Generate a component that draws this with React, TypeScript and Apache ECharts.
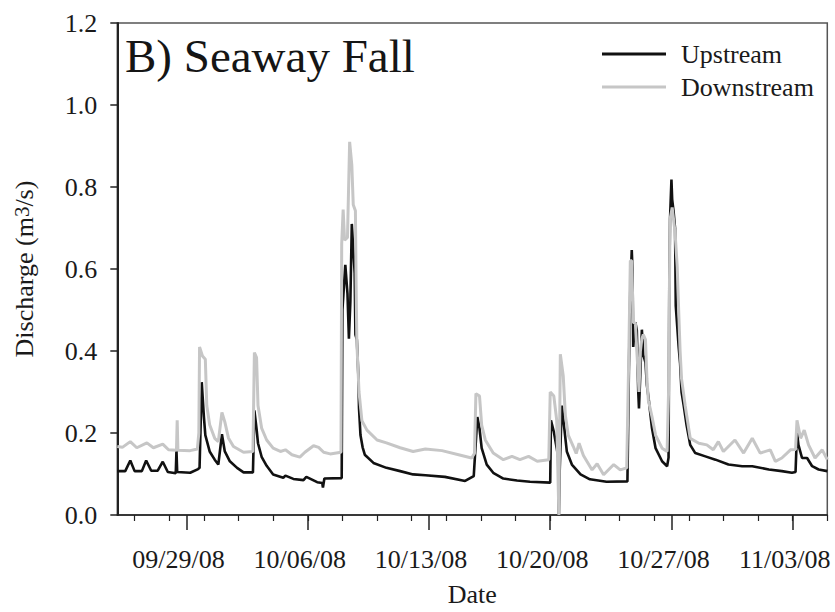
import React, { useEffect, useRef } from "react";
import * as echarts from "echarts";

// Discharge time series, "MM/DD HH" (2008) and m^3/s
const upstream: [string, number][] = [
  ["09/25 00", 0.107], ["09/25 11", 0.107], ["09/25 18", 0.133], ["09/26 00", 0.107],
  ["09/26 10", 0.107], ["09/26 16", 0.133], ["09/26 23", 0.108], ["09/27 08", 0.108],
  ["09/27 15", 0.13], ["09/27 22", 0.105], ["09/28 09", 0.102], ["09/28 10", 0.157],
  ["09/28 11", 0.105], ["09/29 05", 0.103], ["09/29 16", 0.112], ["09/29 18", 0.115],
  ["09/29 21", 0.324], ["09/30 00", 0.24], ["09/30 02", 0.195], ["09/30 08", 0.155],
  ["09/30 15", 0.135], ["09/30 20", 0.123], ["10/01 01", 0.197], ["10/01 05", 0.155],
  ["10/01 12", 0.131], ["10/01 22", 0.115], ["10/02 07", 0.104], ["10/02 20", 0.104],
  ["10/02 22", 0.255], ["10/03 01", 0.21], ["10/03 03", 0.175], ["10/03 08", 0.142],
  ["10/03 15", 0.12], ["10/04 00", 0.099], ["10/04 14", 0.091], ["10/04 17", 0.096],
  ["10/05 04", 0.088], ["10/05 18", 0.085], ["10/05 22", 0.093], ["10/06 13", 0.08],
  ["10/06 20", 0.078], ["10/06 21", 0.067], ["10/06 23", 0.089], ["10/07 23", 0.09],
  ["10/08 00", 0.5], ["10/08 04", 0.61], ["10/08 07", 0.54], ["10/08 09", 0.43],
  ["10/08 11", 0.52], ["10/08 13", 0.71], ["10/08 15", 0.65], ["10/08 17", 0.59],
  ["10/08 18", 0.44], ["10/08 20", 0.428], ["10/08 22", 0.344], ["10/08 23", 0.26],
  ["10/09 01", 0.195], ["10/09 04", 0.165], ["10/09 07", 0.147], ["10/09 19", 0.127],
  ["10/10 13", 0.115], ["10/11 08", 0.107], ["10/12 02", 0.099], ["10/12 19", 0.097],
  ["10/13 22", 0.093], ["10/15 02", 0.083], ["10/15 14", 0.095], ["10/15 19", 0.239],
  ["10/15 22", 0.211], ["10/16 01", 0.163], ["10/16 08", 0.123], ["10/16 17", 0.103],
  ["10/17 07", 0.089], ["10/18 02", 0.084], ["10/18 20", 0.081], ["10/20 00", 0.079],
  ["10/20 01", 0.231], ["10/20 05", 0.203], ["10/20 09", 0.163], ["10/20 11", 0.14],
  ["10/20 12", 0.0], ["10/20 13", 0.1], ["10/20 16", 0.267], ["10/20 19", 0.219],
  ["10/20 23", 0.155], ["10/21 06", 0.123], ["10/21 18", 0.099], ["10/22 07", 0.087],
  ["10/23 06", 0.081], ["10/24 11", 0.082], ["10/24 13", 0.35], ["10/24 15", 0.55],
  ["10/24 17", 0.646], ["10/24 18", 0.6], ["10/24 19", 0.41], ["10/24 22", 0.47],
  ["10/25 00", 0.45], ["10/25 02", 0.3], ["10/25 03", 0.26], ["10/25 05", 0.35],
  ["10/25 07", 0.452], ["10/25 09", 0.39], ["10/25 12", 0.372], ["10/25 14", 0.316],
  ["10/25 16", 0.29], ["10/25 21", 0.212], ["10/26 02", 0.163], ["10/26 11", 0.131],
  ["10/26 18", 0.119], ["10/26 20", 0.14], ["10/26 21", 0.55], ["10/26 22", 0.72],
  ["10/27 00", 0.818], ["10/27 01", 0.77], ["10/27 03", 0.74], ["10/27 05", 0.7],
  ["10/27 06", 0.51], ["10/27 08", 0.46], ["10/27 10", 0.41], ["10/27 12", 0.37],
  ["10/27 14", 0.3], ["10/27 17", 0.267], ["10/27 21", 0.219], ["10/28 02", 0.171],
  ["10/28 09", 0.151], ["10/28 23", 0.143], ["10/29 13", 0.135], ["10/30 07", 0.123],
  ["10/31 02", 0.119], ["10/31 16", 0.119], ["11/01 15", 0.111], ["11/02 09", 0.107],
  ["11/02 23", 0.103], ["11/03 04", 0.105], ["11/03 06", 0.203], ["11/03 08", 0.171],
  ["11/03 13", 0.139], ["11/03 20", 0.139], ["11/04 03", 0.119], ["11/04 12", 0.111],
  ["11/05 00", 0.107],
];

const downstream: [string, number][] = [
  ["09/25 00", 0.167], ["09/25 07", 0.165], ["09/25 18", 0.179], ["09/26 03", 0.164],
  ["09/26 17", 0.176], ["09/27 02", 0.164], ["09/27 15", 0.173], ["09/27 23", 0.159],
  ["09/28 10", 0.158], ["09/28 11", 0.231], ["09/28 12", 0.158], ["09/29 05", 0.157],
  ["09/29 15", 0.161], ["09/29 17", 0.2], ["09/29 18", 0.41], ["09/29 22", 0.388],
  ["09/30 02", 0.38], ["09/30 04", 0.267], ["09/30 08", 0.22], ["09/30 15", 0.187],
  ["09/30 20", 0.179], ["10/01 01", 0.25], ["10/01 05", 0.227], ["10/01 10", 0.188],
  ["10/01 17", 0.167], ["10/02 07", 0.153], ["10/02 20", 0.155], ["10/02 22", 0.396],
  ["10/03 01", 0.384], ["10/03 03", 0.267], ["10/03 08", 0.212], ["10/03 15", 0.183],
  ["10/04 00", 0.163], ["10/04 10", 0.155], ["10/04 17", 0.159], ["10/05 02", 0.147],
  ["10/05 13", 0.141], ["10/05 20", 0.153], ["10/06 08", 0.169], ["10/06 15", 0.165],
  ["10/06 22", 0.153], ["10/07 07", 0.149], ["10/07 22", 0.153], ["10/07 23", 0.661],
  ["10/08 01", 0.745], ["10/08 03", 0.67], ["10/08 07", 0.677], ["10/08 10", 0.91],
  ["10/08 13", 0.854], ["10/08 15", 0.757], ["10/08 18", 0.742], ["10/08 19", 0.56],
  ["10/08 20", 0.42], ["10/08 23", 0.3], ["10/09 03", 0.23], ["10/09 10", 0.207],
  ["10/10 00", 0.183], ["10/10 13", 0.176], ["10/11 08", 0.164], ["10/12 02", 0.155],
  ["10/12 19", 0.161], ["10/13 18", 0.157], ["10/14 17", 0.147], ["10/15 11", 0.139],
  ["10/15 15", 0.15], ["10/15 17", 0.296], ["10/15 22", 0.29], ["10/16 01", 0.219],
  ["10/16 06", 0.183], ["10/16 17", 0.151], ["10/17 07", 0.135], ["10/17 19", 0.143],
  ["10/18 06", 0.135], ["10/18 18", 0.143], ["10/19 06", 0.131], ["10/19 22", 0.135],
  ["10/20 00", 0.3], ["10/20 05", 0.29], ["10/20 09", 0.231], ["10/20 12", 0.0],
  ["10/20 13", 0.2], ["10/20 14", 0.392], ["10/20 18", 0.34], ["10/20 21", 0.243],
  ["10/21 01", 0.195], ["10/21 08", 0.167], ["10/21 12", 0.15], ["10/21 16", 0.175],
  ["10/21 22", 0.145], ["10/22 10", 0.11], ["10/22 17", 0.125], ["10/23 02", 0.098],
  ["10/23 16", 0.123], ["10/24 01", 0.11], ["10/24 10", 0.115], ["10/24 13", 0.4],
  ["10/24 15", 0.62], ["10/24 17", 0.62], ["10/24 19", 0.47], ["10/24 22", 0.468],
  ["10/25 00", 0.4], ["10/25 02", 0.34], ["10/25 03", 0.3], ["10/25 05", 0.4],
  ["10/25 07", 0.43], ["10/25 09", 0.44], ["10/25 12", 0.428], ["10/25 14", 0.333],
  ["10/25 16", 0.28], ["10/25 21", 0.24], ["10/26 02", 0.195], ["10/26 11", 0.163],
  ["10/26 18", 0.155], ["10/26 20", 0.3], ["10/26 22", 0.72], ["10/27 01", 0.75],
  ["10/27 03", 0.72], ["10/27 05", 0.69], ["10/27 08", 0.605], ["10/27 10", 0.5],
  ["10/27 12", 0.4], ["10/27 14", 0.332], ["10/27 19", 0.267], ["10/28 02", 0.187],
  ["10/28 14", 0.175], ["10/29 01", 0.171], ["10/29 10", 0.159], ["10/29 17", 0.179],
  ["10/30 00", 0.155], ["10/30 16", 0.183], ["10/31 04", 0.151], ["10/31 16", 0.187],
  ["11/01 03", 0.151], ["11/01 17", 0.159], ["11/02 00", 0.131], ["11/02 09", 0.139],
  ["11/02 21", 0.159], ["11/03 04", 0.16], ["11/03 06", 0.231], ["11/03 11", 0.187],
  ["11/03 16", 0.207], ["11/03 22", 0.171], ["11/04 07", 0.139], ["11/04 17", 0.159],
  ["11/05 00", 0.135],
];

const dateTicks = ["09/29/08", "10/06/08", "10/13/08", "10/20/08", "10/27/08", "11/03/08"];
const yTicks = [0, 0.2, 0.4, 0.6, 0.8, 1.0, 1.2];
const axisStart = "09/25 00";
const axisEnd = "11/05 00";

const FONT = "'Liberation Serif', 'Times New Roman', serif";
const DAY = 24 * 3600 * 1000;

const toMs = (s: string) => {
  const [md, hh] = s.split(" ");
  const [m, d] = md.split("/").map(Number);
  return Date.UTC(2008, m - 1, d, Number(hh || 0));
};
const tickMs = (s: string) => {
  const [m, d] = s.split("/").map(Number);
  return Date.UTC(2008, m - 1, d);
};
const fmtDate = (v: number) => {
  const dt = new Date(v);
  const p = (n: number) => String(n).padStart(2, "0");
  return `${p(dt.getUTCMonth() + 1)}/${p(dt.getUTCDate())}/${String(dt.getUTCFullYear()).slice(2)}`;
};

export default function App() {
  const ref = useRef<HTMLDivElement>(null);

  useEffect(() => {
    if (!ref.current) return;
    const chart = echarts.init(ref.current, undefined, { renderer: "svg" });

    const xMin = toMs(axisStart);
    const xMax = toMs(axisEnd);
    const majorValues = dateTicks.map(tickMs);
    // small ticks every second day, aligned with 10/06
    const minorValues: number[] = [];
    for (let v = tickMs("09/26/08"); v <= xMax; v += 2 * DAY) minorValues.push(v);

    chart.setOption({
      animation: false,
      backgroundColor: "#ffffff",
      textStyle: { fontFamily: FONT },
      title: {
        text: "B) Seaway Fall",
        left: 120,
        top: 27,
        textStyle: { fontFamily: FONT, fontSize: 47, fontWeight: "normal", color: "#151515" },
      },
      legend: {
        data: ["Upstream", "Downstream"],
        orient: "vertical",
        left: 597,
        top: 36,
        itemWidth: 64,
        itemHeight: 3,
        itemGap: 7,
        icon: "rect",
        textStyle: {
          fontFamily: FONT,
          fontSize: 26,
          lineHeight: 26,
          color: "#1a1a1a",
          padding: [0, 0, 0, 10],
        },
      },
      grid: {
        left: 117.3,
        right: 7.7,
        top: 23,
        bottom: 91,
        show: true,
        borderColor: "#555555",
        borderWidth: 1.5,
      },
      xAxis: [
        {
          type: "value",
          min: xMin,
          max: xMax,
          position: "bottom",
          name: "Date",
          nameLocation: "middle",
          nameGap: 66,
          nameTextStyle: { fontFamily: FONT, fontSize: 26, color: "#1a1a1a" },
          axisLine: { show: true, onZero: false, lineStyle: { color: "#222222", width: 1.5 } },
          axisTick: {
            show: true,
            customValues: majorValues,
            length: 15,
            lineStyle: { color: "#222222", width: 1.5 },
          },
          axisLabel: {
            customValues: majorValues,
            formatter: (v: number) => fmtDate(v),
            fontFamily: FONT,
            fontSize: 26,
            color: "#1a1a1a",
            margin: 31,
            padding: [0, 16, 0, 0],
          },
          splitLine: { show: false },
        },
        {
          type: "value",
          min: xMin,
          max: xMax,
          position: "bottom",
          axisLine: { show: false },
          axisTick: {
            show: true,
            customValues: minorValues,
            length: 6,
            lineStyle: { color: "#222222", width: 1.2 },
          },
          axisLabel: { show: false },
          splitLine: { show: false },
        },
      ],
      yAxis: {
        type: "value",
        min: 0,
        max: 1.2,
        interval: 0.2,
        name: "{a|Discharge (m}{s|3}{a|/s)}",
        nameLocation: "middle",
        nameGap: 66,
        nameRotate: 90,
        nameTextStyle: {
          fontFamily: FONT,
          color: "#1a1a1a",
          rich: {
            a: { fontFamily: FONT, fontSize: 26, lineHeight: 26, verticalAlign: "bottom", color: "#1a1a1a" },
            s: {
              fontFamily: FONT,
              fontSize: 21,
              lineHeight: 21,
              verticalAlign: "top",
              padding: [0, 0, 21, 0],
              color: "#1a1a1a",
            },
          },
        },
        axisLine: { show: true, lineStyle: { color: "#222222", width: 2 } },
        axisTick: { show: true, length: 7, lineStyle: { color: "#222222", width: 1.5 } },
        axisLabel: {
          formatter: (v: number) => (yTicks.includes(Math.round(v * 10) / 10) ? v.toFixed(1) : ""),
          fontFamily: FONT,
          fontSize: 26,
          color: "#1a1a1a",
          margin: 20,
        },
        splitLine: { show: false },
      },
      series: [
        {
          name: "Upstream",
          type: "line",
          showSymbol: false,
          data: upstream.map(([t, v]) => [toMs(t), v]),
          itemStyle: { color: "#111111" },
          lineStyle: { color: "#111111", width: 2.6 },
        },
        {
          name: "Downstream",
          type: "line",
          showSymbol: false,
          data: downstream.map(([t, v]) => [toMs(t), v]),
          itemStyle: { color: "#c6c6c6" },
          lineStyle: { color: "#c6c6c6", width: 3 },
        },
      ],
    });

    return () => chart.dispose();
  }, []);

  return (
    <div
      ref={ref}
      style={{ position: "fixed", left: 0, top: 0, width: 835, height: 612, background: "#fff" }}
    />
  );
}
